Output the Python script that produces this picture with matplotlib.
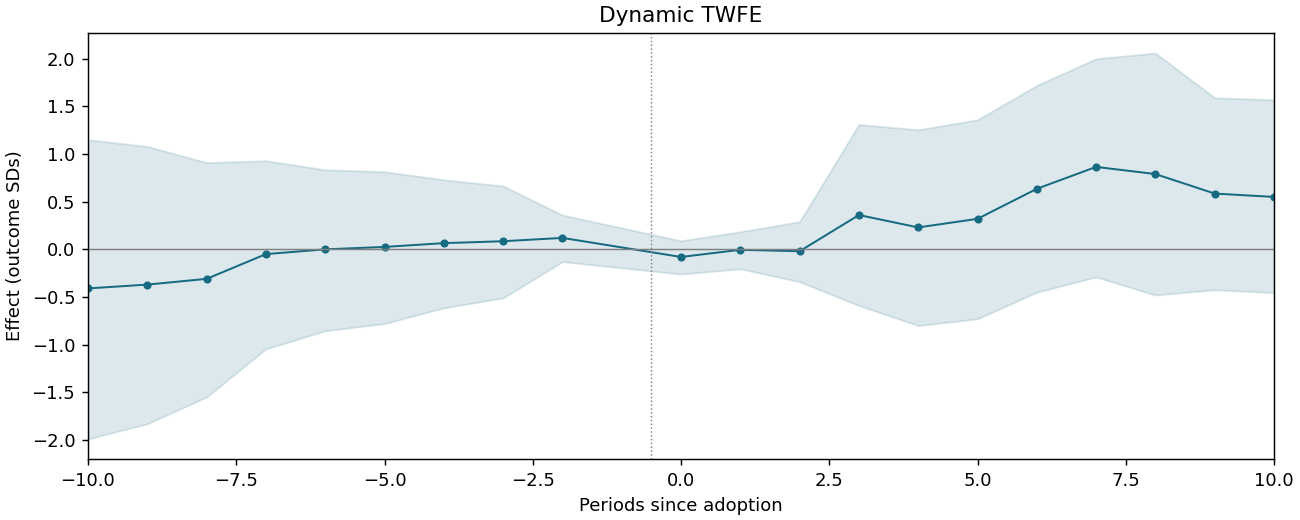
import matplotlib
matplotlib.use("Agg")
import matplotlib.pyplot as plt
import numpy as np

# event time (reference period -1 dropped)
periods = [-10, -9, -8, -7, -6, -5, -4, -3, -2, 0, 1, 2, 3, 4, 5, 6, 7, 8, 9, 10]
effect = [-0.41, -0.37, -0.31, -0.05, 0.0, 0.025, 0.065, 0.085, 0.12,
          -0.08, -0.005, -0.02, 0.36, 0.23, 0.32, 0.635, 0.865, 0.79, 0.585, 0.55]
ci_upper = [1.15, 1.08, 0.91, 0.93, 0.835, 0.815, 0.73, 0.665, 0.36,
            0.09, 0.185, 0.29, 1.31, 1.255, 1.36, 1.72, 2.0, 2.06, 1.59, 1.57]
ci_lower = [-1.99, -1.83, -1.55, -1.045, -0.855, -0.78, -0.615, -0.51, -0.13,
            -0.26, -0.205, -0.34, -0.59, -0.80, -0.73, -0.45, -0.29, -0.48, -0.425, -0.455]

color = "#166a82"

# 10x4 inches at 130 dpi -> 1300x520 px
fig = plt.figure(figsize=(10, 4), dpi=130)
ax = fig.add_axes([88 / 1300, 1 - 459 / 520, (1274 - 88) / 1300, (459 - 33) / 520])

ax.fill_between(periods, ci_lower, ci_upper, color=color, alpha=0.15)
ax.plot(periods, effect, color=color, marker="o", markersize=3.5, linewidth=1.1)
ax.axhline(0, color="gray", linewidth=0.8)
ax.axvline(-0.5, color="gray", linestyle=":", linewidth=0.8)

ax.set_xlim(-10, 10)
ax.set_ylim(-2.2, 2.27)
ax.set_xlabel("Periods since adoption")
ax.set_ylabel("Effect (outcome SDs)")
ax.set_title("Dynamic TWFE")

fig.savefig("out.png", dpi=130)
